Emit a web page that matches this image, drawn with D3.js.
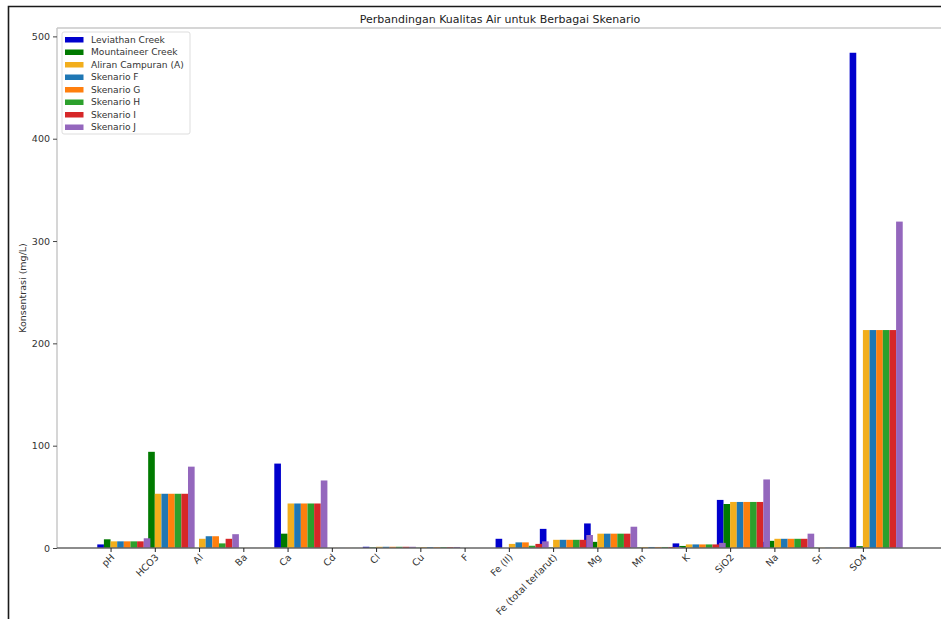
<!DOCTYPE html>
<html>
<head>
<meta charset="utf-8">
<script src="https://cdn.jsdelivr.net/npm/d3@7"></script>
<style>
  html, body { margin: 0; padding: 0; background: #fff; }
  svg { display: block; font-family: "DejaVu Sans", sans-serif; }
</style>
</head>
<body>
<svg id="chart" width="941" height="619"></svg>
<script>
// Parameters measured for each water source / scenario (mg/L, pH unitless)
const categories = ["pH", "HCO3", "Al", "Ba", "Ca", "Cd", "Cl", "Cu", "F", "Fe (II)",
  "Fe (total terlarut)", "Mg", "Mn", "K", "SiO2", "Na", "Sr", "SO4"];

const seriesNames = ["Leviathan Creek", "Mountaineer Creek", "Aliran Campuran (A)",
  "Skenario F", "Skenario G", "Skenario H", "Skenario I", "Skenario J"];

const leviathan   = [3.5, 0,   30,  0.1, 82.5, 0.1, 1.2, 0.8, 0, 9,   18.7, 24,  1.0, 4.5, 47, 6,  0.3, 484];
const mountaineer = [8.5, 94,  0,   0.1, 14,   0,   0.6, 0.3, 0, 0,   0.5,  6,   0.5, 2,   43, 7,  0.3, 1.8];
const aliranA     = [6.5, 53,  9,   0.1, 43.5, 0.1, 1.2, 0.8, 0, 4,   8,    14,  1.0, 3.5, 45, 9,  0.3, 213];
const skenarioF   = [6.5, 53,  11.5,0.1, 43.5, 0.1, 1.2, 0.8, 0, 5.5, 8,    14,  1.0, 3.5, 45, 9,  0.3, 213];
const skenarioG   = [6.5, 53,  11.5,0.1, 43.5, 0.1, 1.2, 0.8, 0, 5.5, 8,    14,  1.0, 3.5, 45, 9,  0.3, 213];
const skenarioH   = [6.5, 53,  4.5, 0.1, 43.5, 0.1, 1.2, 0.8, 0, 2.2, 8,    14,  1.0, 3.5, 45, 9,  0.3, 213];
const skenarioI   = [6.5, 53,  9,   0.1, 43.5, 0.1, 1.2, 0.8, 0, 4,   8,    14,  1.0, 3.5, 45, 9,  0.3, 213];
const skenarioJ   = [9.5, 79.5,13.5,0.1, 66,   0.1, 1.2, 1.0, 0, 6.5, 12.7, 20.8,1.0, 5,   67, 14, 0.3, 319];

const seriesValues = [leviathan, mountaineer, aliranA, skenarioF, skenarioG, skenarioH, skenarioI, skenarioJ];
const seriesColors = ["#0000cd", "#007a00", "#f2ae1c", "#1f77b4", "#ff7f0e", "#2ca02c", "#d62728", "#9467bd"];

const yTicks = [0, 100, 200, 300, 400, 500];

const svg = d3.select("#chart");

// outer frame
svg.append("path")
  .attr("d", "M8.5,619 L8.5,6.5 L941,6.5")
  .attr("fill", "none").attr("stroke", "#1a1a1a").attr("stroke-width", 1.6);

const barW = 0.15;
const nCat = categories.length;
const xMin = -1.5 * barW - barW / 2, xMax = (nCat - 1) + 5.5 * barW + barW / 2;
const pad = (xMax - xMin) * 0.05;
const plotLeft = 57, plotRight = 943, plotTop = 28, plotBottom = 548;

const x = d3.scaleLinear().domain([xMin - pad, xMax + pad]).range([plotLeft, plotRight]);
const yMax = d3.max(seriesValues.flat()) * 1.05;
const y = d3.scaleLinear().domain([0, yMax]).range([plotBottom, plotTop]);
const pxPerUnit = x(1) - x(0);

// bars: each series drawn in turn across all categories
seriesValues.forEach((vals, i) => {
  svg.append("g").selectAll("rect")
    .data(vals)
    .join("rect")
    .attr("x", (d, j) => x(j + (i - 1.5) * barW - barW / 2))
    .attr("width", barW * pxPerUnit)
    .attr("y", d => y(d))
    .attr("height", d => y(0) - y(d))
    .attr("fill", seriesColors[i]);
});

// spines
svg.append("line").attr("x1", plotLeft).attr("x2", plotLeft).attr("y1", plotTop).attr("y2", plotBottom)
  .attr("stroke", "#c8c8c8").attr("stroke-width", 1.5);
svg.append("line").attr("x1", plotLeft).attr("x2", 941).attr("y1", plotTop).attr("y2", plotTop)
  .attr("stroke", "#c8c8c8").attr("stroke-width", 1.5);

// y axis
const yAxis = d3.axisLeft(y).tickValues(yTicks).tickSize(4).tickPadding(3).tickFormat(d3.format("d"));
const gy = svg.append("g").attr("transform", `translate(${plotLeft},0)`).call(yAxis);
gy.select(".domain").remove();
gy.selectAll(".tick line").attr("stroke", "#444");
gy.selectAll(".tick text").attr("font-size", 9.5).attr("fill", "#333")
  .attr("font-family", "DejaVu Sans, sans-serif");

// x axis
const xAxis = d3.axisBottom(x).tickValues(d3.range(nCat)).tickSize(4)
  .tickFormat(i => categories[i]);
const gx = svg.append("g").attr("transform", `translate(0,${plotBottom})`).call(xAxis);
gx.select(".domain").attr("stroke", "#666").attr("stroke-width", 1.5)
  .attr("d", `M${plotLeft},0H941`);
gx.selectAll(".tick line").attr("stroke", "#222");
gx.selectAll(".tick text")
  .attr("font-size", 9.5).attr("fill", "#333")
  .attr("font-family", "DejaVu Sans, sans-serif")
  .attr("text-anchor", "end")
  .attr("dy", null)
  .attr("y", 0)
  .attr("transform", "translate(4,10) rotate(-45)");

// y label
svg.append("text")
  .attr("transform", `translate(26,${(plotTop + plotBottom) / 2}) rotate(-90)`)
  .attr("text-anchor", "middle")
  .attr("font-size", 9.5).attr("fill", "#333")
  .text("Konsentrasi (mg/L)");

// title
svg.append("text")
  .attr("x", (plotLeft + plotRight) / 2).attr("y", 23)
  .attr("text-anchor", "middle")
  .attr("font-size", 11).attr("fill", "#222")
  .text("Perbandingan Kualitas Air untuk Berbagai Skenario");

// legend
const lg = svg.append("g").attr("transform", "translate(62,32)");
lg.append("rect").attr("width", 128).attr("height", 102).attr("rx", 2)
  .attr("fill", "#fff").attr("fill-opacity", 0.85).attr("stroke", "#ddd");
seriesNames.forEach((name, i) => {
  const row = lg.append("g").attr("transform", `translate(0,${7.5 + i * 12.5})`);
  row.append("rect").attr("x", 3).attr("y", -2.5).attr("width", 18.5).attr("height", 5.5)
    .attr("fill", seriesColors[i]);
  row.append("text").attr("x", 29).attr("y", 3.4)
    .attr("font-size", 9.1).attr("fill", "#333").text(name);
});
</script>
</body>
</html>
